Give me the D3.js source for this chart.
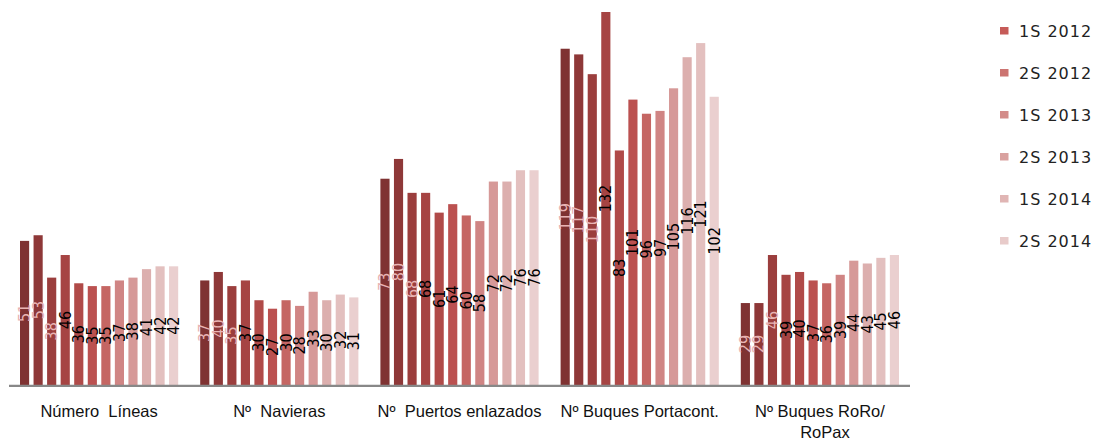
<!DOCTYPE html>
<html>
<head>
<meta charset="utf-8">
<script src="https://cdn.jsdelivr.net/npm/d3@7"></script>
<style>
  html, body { margin: 0; padding: 0; background: #fff; }
  svg { display: block; }
  .tick text { white-space: pre; }
</style>
</head>
<body>
<svg id="chart" width="1102" height="441"></svg>
<script>
// ---- data ----
const categories = ["Número  Líneas", "Nº  Navieras", "Nº  Puertos enlazados", "Nº Buques Portacont.", "Nº Buques RoRo/ RoPax"];
const numeroLineas   = [51, 53, 38, 46, 36, 35, 35, 37, 38, 41, 42, 42];
const navieras       = [37, 40, 35, 37, 30, 27, 30, 28, 33, 30, 32, 31];
const puertos        = [73, 80, 68, 68, 61, 64, 60, 58, 72, 72, 76, 76];
const buquesPortacont = [119, 117, 110, 132, 83, 101, 96, 97, 105, 116, 121, 102];
const buquesRoRo     = [29, 29, 46, 39, 40, 37, 36, 39, 44, 43, 45, 46];
const legendLabels   = ["1S 2012", "2S 2012", "1S 2013", "2S 2013", "1S 2014", "2S 2014"];

const groups = [numeroLineas, navieras, puertos, buquesPortacont, buquesRoRo];

// ---- styles ----
const barColors = ["#7f3232", "#8e3838", "#9b3e3d", "#a64443", "#b04a48", "#bb5150",
                   "#c56663", "#d08584", "#d69998", "#dcafae", "#e3c0bf", "#eacfcf"];
const legendColors = ["#c65b58", "#cc7471", "#d38b89", "#d9a19f", "#e0b5b4", "#e8cbca"];

const svg = d3.select("#chart");
const baseY = 385;

const x0 = d3.scaleBand().domain(d3.range(categories.length)).range([9, 910]).padding(0);
const x1 = d3.scaleBand().domain(d3.range(12)).range([11, x0.bandwidth() - 11]).paddingInner(0.325);
const y = d3.scaleLinear().domain([0, 132]).range([baseY, 12]);

const g = svg.append("g");

const grp = g.selectAll("g.grp").data(groups).join("g")
  .attr("class", "grp")
  .attr("transform", (d, i) => `translate(${x0(i)},0)`);

grp.selectAll("rect").data(d => d).join("rect")
  .attr("x", (d, i) => x1(i))
  .attr("width", x1.bandwidth())
  .attr("y", d => y(d))
  .attr("height", d => baseY - y(d))
  .attr("fill", (d, i) => barColors[i]);

grp.selectAll("text.lbl").data(d => d).join("text")
  .attr("class", "lbl")
  .attr("transform", (d, i) => `translate(${x1(i) + x1.bandwidth() / 2},${(y(d) + baseY) / 2}) rotate(-90)`)
  .attr("text-anchor", "middle")
  .attr("dominant-baseline", "central")
  .attr("font-family", "DejaVu Sans Condensed, DejaVu Sans, sans-serif")
  .attr("font-size", 16)
  .attr("fill", (d, i) => i < 3 ? "#e8b4b4" : "#000")
  .text(d => d);

// x axis
const xAxis = d3.axisBottom(x0).tickSize(0).tickFormat(i => categories[i]);
const ax = svg.append("g").attr("transform", `translate(0,${baseY})`).call(xAxis);
ax.select(".domain").attr("stroke", "#888").attr("stroke-width", 2.2).attr("d", "M9,0.8H910");
ax.selectAll(".tick text")
  .attr("font-family", "Liberation Sans Narrow, Liberation Sans, sans-serif")
  .attr("font-size", 16.5)
  .attr("fill", "#111")
  .attr("dy", 0)
  .attr("y", 32)
  .each(function (i) {
    const t = d3.select(this);
    const parts = categories[i].split("/ ");
    if (parts.length > 1) {
      t.text(null);
      t.append("tspan").attr("x", 0).attr("y", 32).text(parts[0] + "/");
      t.append("tspan").attr("x", 5).attr("y", 53).text(parts[1]);
    }
  });

// legend
const lg = svg.append("g");
const li = lg.selectAll("g").data(legendLabels).join("g")
  .attr("transform", (d, i) => `translate(1000,${27 + i * 42})`);
li.append("rect").attr("width", 8.5).attr("height", 7.5).attr("fill", (d, i) => legendColors[i]);
li.append("text")
  .attr("x", 19).attr("y", 4)
  .attr("dominant-baseline", "central")
  .attr("font-family", "DejaVu Sans, sans-serif")
  .attr("font-size", 16)
  .attr("letter-spacing", 1)
  .attr("fill", "#222")
  .text(d => d);
</script>
</body>
</html>
